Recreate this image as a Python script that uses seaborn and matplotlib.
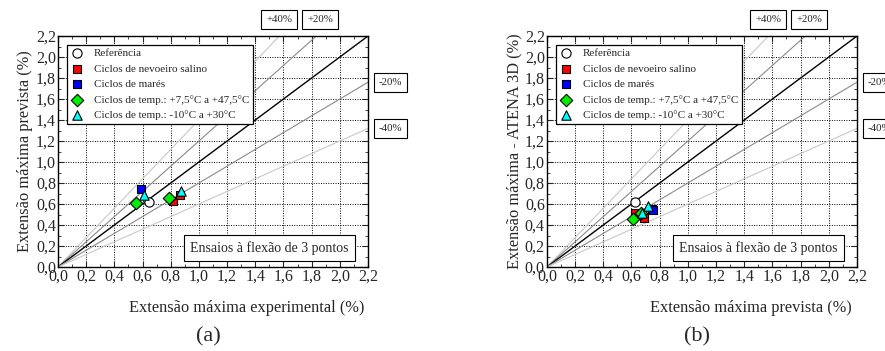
import seaborn as sns
import pandas as pd
import matplotlib.pyplot as plt
import numpy as np
from matplotlib.ticker import MultipleLocator, FuncFormatter

sns.set_style("ticks")
plt.rcParams['font.family'] = ['Liberation Serif', 'DejaVu Serif']
plt.rcParams['xtick.direction'] = 'in'
plt.rcParams['ytick.direction'] = 'in'

# panel (a): predicted vs experimental
ref_a_x = [0.643]
ref_a_y = [0.62]
salt_a_x = [0.814, 0.868]
salt_a_y = [0.626, 0.69]
tide_a_x = [0.589]
tide_a_y = [0.747]
hot_a_x = [0.551, 0.79]
hot_a_y = [0.607, 0.661]
cold_a_x = [0.61, 0.875]
cold_a_y = [0.684, 0.725]

# panel (b): ATENA 3D vs predicted
ref_b_x = [0.625]
ref_b_y = [0.62]
salt_b_x = [0.625, 0.69]
salt_b_y = [0.515, 0.468]
tide_b_x = [0.745, 0.75]
tide_b_y = [0.556, 0.545]
hot_b_x = [0.608, 0.665]
hot_b_y = [0.455, 0.51]
cold_b_x = [0.718, 0.672]
cold_b_y = [0.58, 0.515]

labels = ["Referência", "Ciclos de nevoeiro salino", "Ciclos de marés",
          "Ciclos de temp.: +7,5°C a +47,5°C", "Ciclos de temp.: -10°C a +30°C"]
colors = ["white", "#ff0000", "#0000ff", "#00ee00", "#00ffff"]
markers = ["o", "s", "s", "D", "^"]
sizes = [44, 36, 36, 40, 46]

slopes = [1.4, 1.2, 1.0, 0.8, 0.6]
line_colors = ["#c8c8c8", "#8a8a8a", "black", "#8a8a8a", "#c8c8c8"]


def comma(v, pos):
    return ("%.1f" % v).replace(".", ",")


def draw_panel(ax, series, ylabel):
    xs = np.array([0.0, 2.2])
    for s, c in zip(slopes, line_colors):
        sns.lineplot(x=xs, y=s * xs, color=c, lw=1.0 if c == "black" else 0.8, ax=ax, zorder=2)
    for (x, y), lab, col, mk, sz in zip(series, labels, colors, markers, sizes):
        sns.scatterplot(x=x, y=y, color=col, marker=mk, s=sz, edgecolor="black",
                        linewidth=0.8, label=lab, ax=ax, zorder=4)
    ax.set_xlim(0, 2.2)
    ax.set_ylim(0, 2.2)
    ax.xaxis.set_major_locator(MultipleLocator(0.2))
    ax.yaxis.set_major_locator(MultipleLocator(0.2))
    ax.xaxis.set_minor_locator(MultipleLocator(0.1))
    ax.yaxis.set_minor_locator(MultipleLocator(0.1))
    ax.xaxis.set_major_formatter(FuncFormatter(comma))
    ax.yaxis.set_major_formatter(FuncFormatter(comma))
    ax.tick_params(which="both", top=True, right=True, labelsize=11.5, pad=1.5)
    ax.tick_params(which="major", length=4, width=0.8)
    ax.tick_params(which="minor", length=2, width=0.6)
    ax.grid(True, which="major", color="black", linestyle=(0, (1, 1.5)), linewidth=0.7)
    for sp in ax.spines.values():
        sp.set_linewidth(1.0)
        sp.set_color("black")
    ax.set_xlabel("")
    ax.set_ylabel(ylabel, fontsize=11.8, labelpad=2)
    leg = ax.legend(loc="upper left", bbox_to_anchor=(0.012, 0.985), fontsize=8.0,
                    frameon=True, fancybox=False, edgecolor="black", framealpha=1,
                    labelspacing=0.52, handletextpad=0.9, borderpad=0.3, handlelength=1.2)
    leg.get_frame().set_linewidth(0.9)
    leg.set_zorder(5)
    box = dict(boxstyle="square,pad=0.45", fc="white", ec="black", lw=0.8)
    for txt, x, y in [("+40%", 1.57, 2.36), ("+20%", 1.86, 2.36),
                      ("-20%", 2.36, 1.76), ("-40%", 2.36, 1.32)]:
        ax.text(x, y, txt, fontsize=7.8, ha="center", va="center", bbox=box, clip_on=False)
    ax.text(1.50, 0.18, "Ensaios à flexão de 3 pontos", fontsize=10, ha="center", va="center",
            bbox=dict(boxstyle="square,pad=0.45", fc="white", ec="black", lw=0.8), zorder=5)


fig = plt.figure(figsize=(8.85, 3.51), dpi=100)
ax1 = fig.add_axes([0.0655, 0.2393, 0.3503, 0.658])
ax2 = fig.add_axes([0.618, 0.2393, 0.3503, 0.658])

draw_panel(ax1, [(ref_a_x, ref_a_y), (salt_a_x, salt_a_y), (tide_a_x, tide_a_y),
                 (hot_a_x, hot_a_y), (cold_a_x, cold_a_y)],
           "Extensão máxima prevista (%)")
draw_panel(ax2, [(ref_b_x, ref_b_y), (salt_b_x, salt_b_y), (tide_b_x, tide_b_y),
                 (hot_b_x, hot_b_y), (cold_b_x, cold_b_y)],
           "Extensão máxima - ATENA 3D (%)")

fig.text(247 / 885, 1 - 308 / 351, "Extensão máxima experimental (%)", fontsize=11.8,
         ha="center", va="center")
fig.text(751 / 885, 1 - 308 / 351, "Extensão máxima prevista (%)", fontsize=11.8,
         ha="center", va="center")
fig.text(208 / 885, 1 - 337 / 351, "(a)", fontsize=16, ha="center", va="center")
fig.text(697 / 885, 1 - 337 / 351, "(b)", fontsize=16, ha="center", va="center")

fig.savefig("out.png", dpi=100)
